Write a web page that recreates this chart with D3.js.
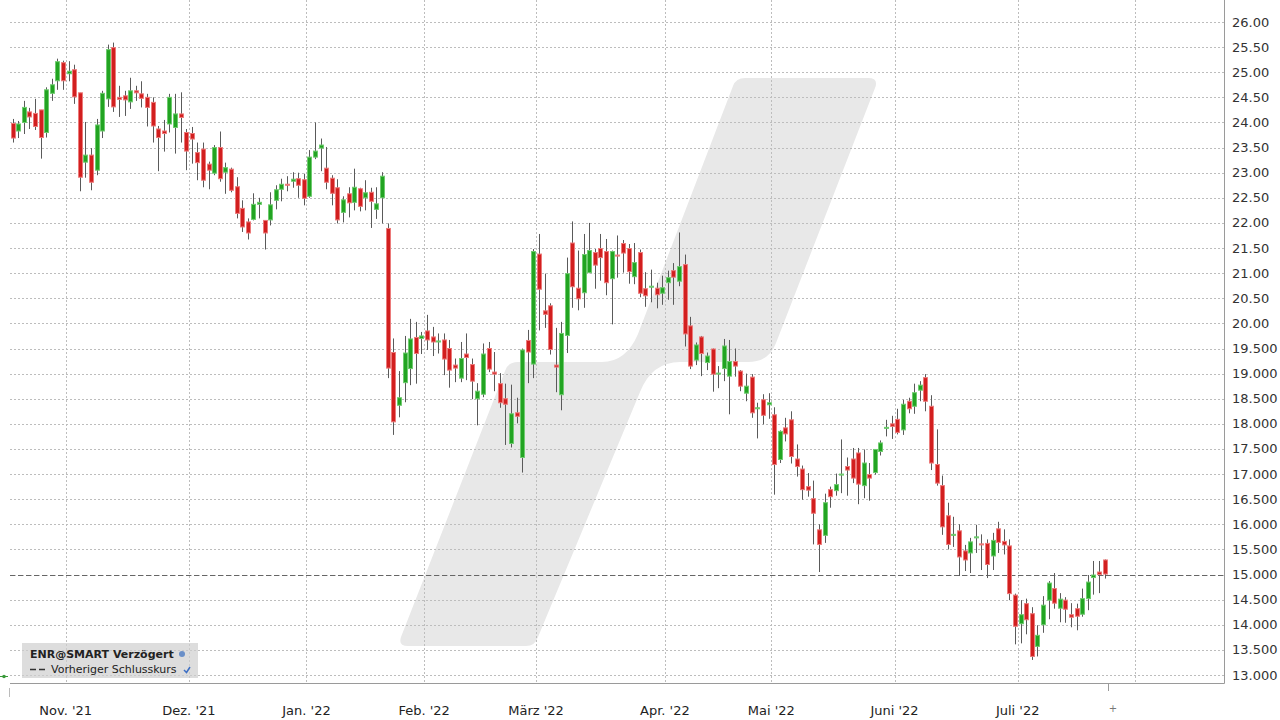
<!DOCTYPE html>
<html><head><meta charset="utf-8">
<script src="https://cdn.jsdelivr.net/npm/d3@7"></script>
<style>body{margin:0;background:#fff;} svg{display:block;font-family:"DejaVu Sans",Verdana,sans-serif;}</style>
</head><body><svg id="c" width="1280" height="720"></svg>
<script>
// ---- data (ENR@SMART, daily candles from 2021-10-18) ----
const openV = [23.98,23.83,24.00,24.21,24.18,24.25,23.80,24.58,24.83,25.19,
24.97,25.05,24.59,23.21,23.35,23.05,23.83,24.47,25.49,24.50,
24.53,24.41,24.63,24.57,24.50,24.40,23.87,23.83,23.97,23.90,
24.17,23.80,23.78,23.40,23.47,23.17,22.99,23.50,23.01,23.07,
22.72,22.29,22.02,22.07,22.37,22.05,22.06,22.45,22.67,22.77,
22.83,22.88,22.86,22.53,23.31,23.49,23.09,22.89,22.70,22.21,
22.58,22.41,22.68,22.50,22.61,22.27,22.50,21.89,19.42,18.37,
18.82,19.10,19.72,19.70,19.85,19.73,19.63,19.67,19.50,19.17,
18.91,19.39,19.18,18.50,18.59,19.50,19.03,18.80,18.50,17.61,
18.22,17.33,19.66,19.19,21.38,20.25,20.35,19.17,18.58,19.76,
21.60,20.70,20.61,21.01,21.41,21.49,21.43,20.89,21.36,21.59,
21.49,20.93,21.41,20.69,20.72,20.70,20.60,20.81,21.05,20.84,
21.17,19.95,19.27,19.73,19.22,19.49,19.00,19.10,18.95,19.24,
19.05,18.61,18.93,18.30,18.48,18.38,18.18,17.29,17.92,18.08,
17.30,17.10,16.75,16.51,15.89,15.78,16.69,16.67,16.98,17.15,
17.30,17.42,16.77,16.99,17.03,17.45,17.91,18.00,18.09,17.88,
18.45,18.35,18.67,18.92,18.35,17.19,16.77,16.17,15.78,15.87,
15.47,15.43,15.73,15.61,15.62,15.37,15.91,15.66,15.57,14.59,
14.02,14.42,14.22,13.57,14.00,14.49,14.72,14.33,14.49,14.20,
14.32,14.21,14.52,14.94,15.05,15.29];
const highV = [24.07,24.03,24.43,24.29,24.47,24.25,24.70,24.87,25.27,25.23,
25.22,25.15,24.59,24.01,23.49,24.07,24.63,25.55,25.59,24.73,
24.63,24.89,24.73,24.82,24.57,24.50,23.93,24.05,24.57,24.57,
24.60,23.87,23.91,23.60,23.60,23.22,23.55,23.82,23.20,23.10,
22.91,22.45,22.09,22.59,22.50,22.05,22.61,22.75,22.88,22.93,
23.01,23.00,22.98,23.45,24.00,23.68,23.51,22.95,22.87,22.53,
22.71,23.08,22.70,22.85,22.70,22.71,23.01,21.99,19.70,19.05,
19.75,20.09,20.03,19.83,20.17,19.93,19.80,19.80,19.67,19.30,
19.63,19.80,19.30,18.81,19.60,19.63,19.43,19.01,18.80,18.78,
18.52,19.50,19.87,21.48,21.78,20.99,20.40,19.91,20.03,21.31,
22.03,21.45,21.78,22.00,21.48,21.78,21.68,21.45,21.75,21.66,
21.58,21.60,21.47,21.02,21.07,20.81,20.95,21.05,21.20,21.81,
21.37,20.13,19.62,19.75,19.42,19.50,19.15,19.69,19.67,19.50,
19.07,19.00,18.99,18.42,18.59,18.61,18.33,17.87,18.12,18.25,
17.59,17.17,17.02,16.87,16.00,16.61,16.75,17.01,17.69,17.33,
17.52,17.52,17.49,17.22,17.49,17.67,18.08,18.16,18.30,18.48,
18.52,18.80,18.85,18.99,18.57,17.89,16.97,16.43,16.15,16.00,
15.59,15.73,15.99,15.80,15.70,15.83,16.05,15.90,15.70,14.62,
14.49,14.52,14.35,13.99,14.57,14.87,15.03,14.63,14.55,14.43,
14.42,14.72,14.99,15.27,15.27,15.30];
const lowV = [23.60,23.69,23.77,23.87,23.85,23.28,23.70,24.43,24.65,24.65,
24.82,24.37,22.63,22.90,22.65,22.95,23.69,24.31,24.21,24.11,
24.13,24.27,24.43,24.30,23.92,23.60,23.03,23.42,23.80,23.38,
23.60,23.05,23.18,22.85,22.71,22.67,22.95,22.82,22.58,22.61,
22.09,21.82,21.67,22.05,22.09,21.47,21.95,22.27,22.43,22.63,
22.70,22.50,22.35,22.50,23.27,23.03,22.67,22.35,21.99,22.01,
22.11,22.25,22.23,22.25,21.90,22.08,21.99,18.91,17.78,18.13,
18.43,18.77,18.80,19.39,19.47,19.35,19.40,18.97,18.72,18.83,
18.83,18.87,18.49,17.97,18.53,19.03,18.65,18.32,17.58,17.53,
18.01,17.03,18.81,18.91,19.86,19.91,19.38,18.63,18.27,19.41,
20.31,20.26,20.31,21.00,20.69,20.85,20.56,19.98,20.91,21.01,
20.79,20.78,20.52,20.33,20.42,20.30,20.37,20.47,20.37,20.74,
19.54,19.09,19.17,18.95,19.07,18.64,18.71,18.85,18.19,18.94,
18.65,18.45,18.12,17.71,17.99,18.10,16.59,17.22,17.65,17.21,
16.95,16.49,16.55,15.60,15.05,15.63,16.33,16.57,16.62,16.57,
16.82,16.40,16.52,16.47,16.99,17.37,17.75,17.70,17.79,17.78,
18.21,18.20,18.45,18.25,17.08,16.77,15.79,15.50,15.55,14.97,
15.07,15.03,15.43,15.09,14.93,15.09,15.43,15.40,14.49,13.61,
13.63,13.81,13.30,13.37,13.84,14.11,14.32,14.05,14.04,13.95,
13.89,14.16,14.29,14.60,14.63,14.92];
const closeV = [23.69,23.97,24.30,24.11,23.92,23.70,24.65,24.75,25.21,24.83,
25.02,24.51,22.91,23.35,22.81,23.95,24.58,25.45,24.31,24.46,
24.45,24.63,24.59,24.48,24.30,23.93,23.70,23.78,24.50,24.17,
24.10,23.43,23.67,23.20,22.85,23.05,23.50,22.88,23.10,22.65,
22.19,21.92,21.80,22.37,22.41,21.80,22.36,22.66,22.77,22.75,
22.87,22.75,22.49,23.31,23.43,23.55,22.81,22.59,22.06,22.46,
22.40,22.71,22.33,22.60,22.43,22.38,22.93,19.11,18.04,18.52,
19.41,19.69,19.40,19.75,19.67,19.63,19.65,19.29,19.07,19.11,
19.30,19.32,18.85,18.65,19.39,19.09,18.99,18.42,18.39,18.20,
18.15,19.47,19.43,21.43,20.68,20.18,19.48,19.13,19.80,20.99,
20.73,20.49,21.37,21.45,21.16,21.31,20.81,21.43,21.34,21.40,
21.03,21.21,20.60,20.55,20.74,20.57,20.71,20.91,20.92,21.13,
19.79,19.15,19.57,19.40,19.35,18.99,19.01,19.55,19.24,19.15,
18.75,18.75,18.22,18.32,18.17,18.42,17.19,17.85,17.80,17.35,
17.15,16.69,16.68,16.22,15.60,16.43,16.55,16.79,17.00,17.08,
16.92,16.80,17.22,16.92,17.49,17.62,17.93,17.95,17.83,18.39,
18.30,18.62,18.77,18.45,17.22,16.82,15.95,15.60,15.80,15.35,
15.29,15.65,15.75,15.59,15.20,15.68,15.64,15.59,14.62,13.97,
14.20,14.10,13.37,13.79,14.39,14.83,14.43,14.51,14.31,14.15,
14.17,14.52,14.85,14.99,15.00,15.01];
const monthLabels = ["Nov. '21","Dez. '21","Jan. '22","Feb. '22","März '22","Apr. '22","Mai '22","Juni '22","Juli '22"];
const yTickValues = [13,13.5,14,14.5,15,15.5,16,16.5,17,17.5,18,18.5,19,19.5,20,20.5,21,21.5,22,22.5,23,23.5,24,24.5,25,25.5,26];
const yTickLabels = ["13.000","13.500","14.000","14.500","15.000","15.500","16.000","16.500","17.000","17.500","18.000","18.500","19.000","19.500","20.00","20.50","21.00","21.50","22.00","22.50","23.00","23.50","24.00","24.50","25.00","25.50","26.00"];
const startDate = "2021-10-18";
const holidays = ["2021-12-24","2021-12-31","2022-04-15","2022-04-18"];
const previousClose = 15.0;
const legendTitle = "ENR@SMART Verzögert";
const legendItem = "Vorheriger Schlusskurs";

// ---- trading calendar ----
const fmt = d3.utcFormat("%Y-%m-%d");
const dates = [];
let d = new Date(startDate + "T00:00:00Z");
while (dates.length < 215) {
  const wd = d.getUTCDay();
  if (wd !== 0 && wd !== 6 && !holidays.includes(fmt(d))) dates.push(new Date(d));
  d = d3.utcDay.offset(d, 1);
}
const N = closeV.length;

// ---- layout ----
const svg = d3.select("#c");
const plotL = 10, plotR = 1224.5, axisY = 683.5;
const x = d3.scaleLinear().domain([0, N - 1]).range([12.5, 1104.5]);
const y = d3.scaleLinear().domain([13, 26]).range([675, 22]);

// watermark
svg.append("path")
  .attr("d","M408,646 Q398,646 401,637 L505,371 Q508,362 518,362 L602,362 Q626,362 638,334 L733,86 Q736,78 745,78 L868,78 Q879,78 875,88 L776,343 Q769,362 748,362 L680,362 Q652,362 640,392 L538,637 Q535,646 526,646 Z")
  .attr("fill","#e8e8e8");

// horizontal grid
svg.append("g").selectAll("line").data(yTickValues).join("line")
  .attr("x1", plotL).attr("x2", plotR)
  .attr("y1", v => Math.round(y(v)) + 0.5).attr("y2", v => Math.round(y(v)) + 0.5)
  .attr("stroke", "#bdbdbd").attr("stroke-dasharray", "2,2").attr("stroke-width", 1);

// month boundaries
const bounds = [];
for (let i = 1; i < dates.length; i++) {
  if (dates[i].getUTCMonth() !== dates[i - 1].getUTCMonth()) bounds.push(i - 0.5);
}
svg.append("g").selectAll("line").data(bounds).join("line")
  .attr("x1", b => Math.round(x(b)) + 0.5).attr("x2", b => Math.round(x(b)) + 0.5)
  .attr("y1", 0).attr("y2", axisY)
  .attr("stroke", "#bdbdbd").attr("stroke-dasharray", "2,2");

// x labels
svg.append("g").selectAll("text").data(monthLabels).join("text")
  .attr("x", (t, k) => x(bounds[k])).attr("y", 715)
  .attr("text-anchor", "middle").attr("font-size", 13).attr("fill", "#222")
  .text(t => t);

// y labels
svg.append("g").selectAll("text").data(yTickValues).join("text")
  .attr("x", 1232).attr("y", v => y(v) + 4.5)
  .attr("font-size", 13).attr("fill", "#333")
  .text((v, k) => yTickLabels[k]);

// frame
svg.append("line").attr("x1", plotR).attr("x2", plotR).attr("y1", 0).attr("y2", axisY).attr("stroke", "#9a9a9a");
svg.append("line").attr("x1", plotL).attr("x2", plotR).attr("y1", axisY).attr("y2", axisY).attr("stroke", "#9a9a9a");
svg.append("line").attr("x1", 1108.5).attr("x2", 1108.5).attr("y1", axisY).attr("y2", 691).attr("stroke", "#9a9a9a");
svg.append("text").attr("x", 1113).attr("y", 712).attr("font-size", 10).attr("fill", "#777").attr("text-anchor","middle").text("+");
svg.append("line").attr("x1", 9.5).attr("x2", 9.5).attr("y1", 688).attr("y2", 697).attr("stroke", "#bbb");

// previous close line
svg.append("line").attr("x1", plotL).attr("x2", plotR)
  .attr("y1", Math.round(y(previousClose)) + 0.5).attr("y2", Math.round(y(previousClose)) + 0.5)
  .attr("stroke", "#666").attr("stroke-dasharray", "5,3");

// candles
const idx = d3.range(N);
const up = i => closeV[i] >= openV[i];
const g = svg.append("g");
g.selectAll("line.w").data(idx).join("line").attr("class", "w")
  .attr("x1", i => Math.round(x(i)) + 0.5).attr("x2", i => Math.round(x(i)) + 0.5)
  .attr("y1", i => y(highV[i])).attr("y2", i => y(lowV[i]))
  .attr("stroke", "#5a5a5a").attr("stroke-width", 1);
g.selectAll("rect").data(idx).join("rect")
  .attr("x", i => Math.round(x(i)) - 1.5)
  .attr("width", 4)
  .attr("y", i => y(Math.max(openV[i], closeV[i])))
  .attr("height", i => Math.max(1, Math.abs(y(openV[i]) - y(closeV[i]))))
  .attr("fill", i => up(i) ? "#22a422" : "#d21f1f")
  .attr("stroke", i => up(i) ? "#6fcb6f" : "#ec7a7a")
  .attr("stroke-width", 1);

// left icon
svg.append("line").attr("x1", 0).attr("x2", 8).attr("y1", 676.5).attr("y2", 676.5).attr("stroke", "#3a9a3a");
svg.append("circle").attr("cx", 4).attr("cy", 676.5).attr("r", 1.8).attr("fill", "#3a9a3a");

// legend
const lg = svg.append("g");
lg.append("rect").attr("x", 22).attr("y", 643).attr("width", 176).attr("height", 35)
  .attr("fill", "#cfcfcf").attr("opacity", 0.7);
lg.append("text").attr("x", 30).attr("y", 658).attr("font-size", 11).attr("font-weight", "bold").attr("fill", "#222").text(legendTitle);
lg.append("circle").attr("cx", 182).attr("cy", 654).attr("r", 3).attr("fill", "#6a8fc8");
lg.append("line").attr("x1", 30).attr("x2", 47).attr("y1", 669.5).attr("y2", 669.5).attr("stroke", "#333").attr("stroke-width", 1.5).attr("stroke-dasharray", "6,3");
lg.append("text").attr("x", 51).attr("y", 673).attr("font-size", 11).attr("fill", "#222").text(legendItem);
lg.append("path").attr("d", "M184,670 L186.5,672.5 L190,667").attr("fill", "none").attr("stroke", "#3d6fc4").attr("stroke-width", 1.5);
</script></body></html>
